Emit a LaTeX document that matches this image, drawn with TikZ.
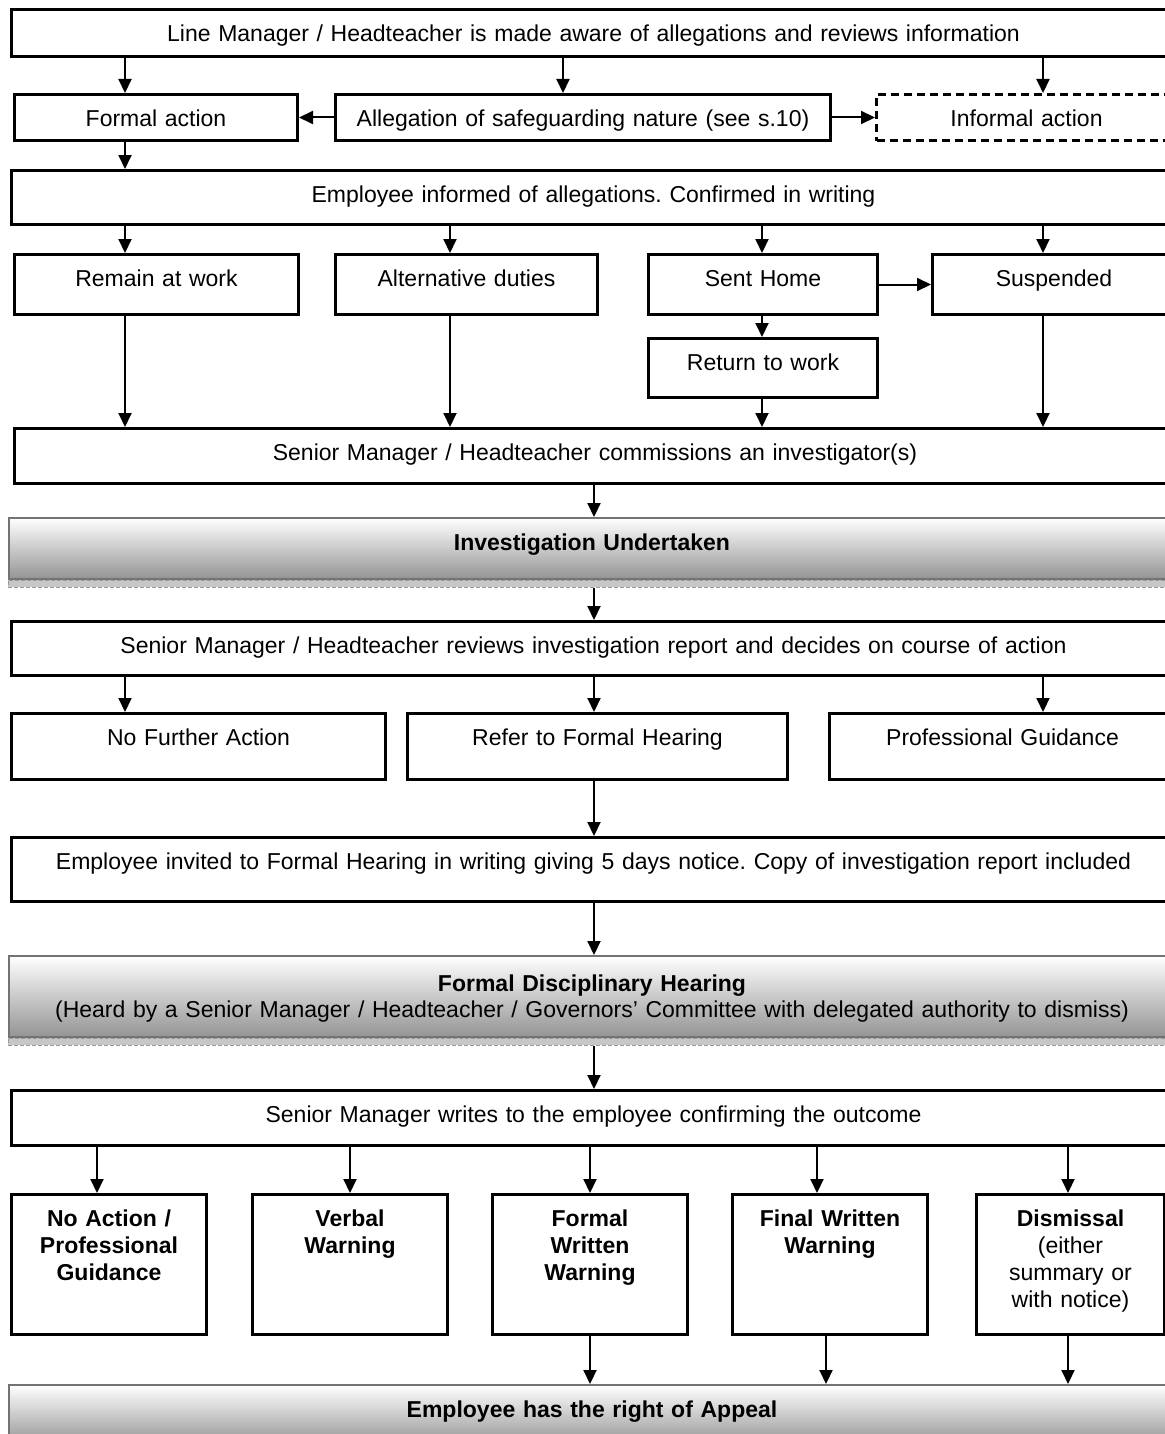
\documentclass[tikz,border=0pt]{standalone}
\usepackage{fontspec}
\setmainfont{Liberation Sans}
\frenchspacing
\usepackage{tikz}
\usetikzlibrary{arrows.meta}

\tikzset{
    stepbox/.style={draw, line width=1.5pt, anchor=north west, inner sep=0pt,
        align=center, text height=16pt, font=\fontsize{11.5}{13.5}\selectfont},
    stagebox/.style={stepbox, draw=black!55, line width=1pt,
        top color=white, bottom color=black!42},
    shadowstrip/.style={anchor=north west, inner sep=0pt, fill=black!22,
        draw=black!40, line width=0.4pt, dash pattern=on 2pt off 1pt,
        text height=0pt, text depth=0pt, minimum height=3.5pt},
}

\begin{document}
\begin{tikzpicture}[x=0.5pt, y=-0.5pt]
    \useasboundingbox (0,0) rectangle (1164,1434);

    % arrow columns
    \coordinate (lft) at (125,0);
    \coordinate (alc) at (563,0);
    \coordinate (rgt) at (1043,0);
    \coordinate (alt) at (450,0);
    \coordinate (snt) at (762,0);
    \coordinate (mid) at (594,0);
    \coordinate (oa) at (97,0);
    \coordinate (ob) at (350,0);
    \coordinate (oc) at (590,0);
    \coordinate (od) at (817,0);
    \coordinate (odd) at (826,0);
    \coordinate (oe) at (1068,0);

    \begin{scope}[every node/.style={stepbox}]
        \node[text width=582pt, text depth=7.5pt] (aware) at (10,8)
            {Line Manager / Headteacher is made aware of allegations and reviews information};
        \node[text width=141.5pt, text depth=7pt] (formal) at (13,93) {Formal action};
        \node[text width=247.5pt, text depth=7pt] (alleg) at (334,93)
            {Allegation of safeguarding nature (see s.10)};
        \node[text width=150pt, text depth=7pt, dash pattern=on 4pt off 2.5pt] (informal) at (875,93)
            {Informal action};
        \node[text width=582pt, text depth=11pt] (informed) at (10,169)
            {Employee informed of allegations. Confirmed in writing};
        \node[text width=142pt, text depth=14pt] (remain) at (13,253) {Remain at work};
        \node[text width=131pt, text depth=14pt] (altduty) at (334,253) {Alternative duties};
        \node[text width=114.5pt, text depth=14pt] (senthome) at (647,253) {Sent Home};
        \node[text width=121.5pt, text depth=14pt] (suspend) at (931,253) {Suspended};
        \node[text width=114.5pt, text depth=13.5pt] (backwork) at (647,337) {Return to work};
        \node[text width=580.5pt, text depth=11.5pt] (commission) at (13,427)
            {Senior Manager / Headteacher commissions an investigator(s)};

        \node[stagebox, text width=583pt, text depth=14.5pt] (investig) at (8,517)
            {\bfseries Investigation Undertaken};
        \node[shadowstrip, minimum width=583pt] (investigs) at (investig.south west) {};

        \node[text width=582pt, text depth=11pt] (review) at (10,620)
            {Senior Manager / Headteacher reviews investigation report and decides on course of action};
        \node[text width=187pt, text depth=17pt] (nfa) at (10,712) {No Further Action};
        \node[text width=190pt, text depth=17pt] (refer) at (406,712) {Refer to Formal Hearing};
        \node[text width=173pt, text depth=17pt] (profguide) at (828,712) {Professional Guidance};
        \node[text width=582pt, text depth=16pt] (invited) at (10,836)
            {Employee invited to Formal Hearing in writing giving 5 days notice. Copy of investigation report included};

        \node[stagebox, text width=583pt, text height=17.5pt, text depth=23pt,
            font=\fontsize{11.5}{13}\selectfont] (hearing) at (8,955)
            {\textbf{Formal Disciplinary Hearing}\\(Heard by a Senior Manager / Headteacher / Governors’ Committee with delegated authority to dismiss)};
        \node[shadowstrip, minimum width=583pt] (hearings) at (hearing.south west) {};

        \node[text width=582pt, text depth=11.5pt] (writes) at (10,1089)
            {Senior Manager writes to the employee confirming the outcome};

        \node[text width=97.5pt, text depth=54pt] (noaction) at (10,1193)
            {\bfseries No Action /\\Professional\\Guidance};
        \node[text width=97.5pt, text depth=54pt] (verbal) at (251,1193)
            {\bfseries Verbal\\Warning};
        \node[text width=97.5pt, text depth=54pt] (written) at (491,1193)
            {\bfseries Formal\\Written\\Warning};
        \node[text width=97.5pt, text depth=54pt] (final) at (731,1193)
            {\bfseries Final Written\\Warning};
        \node[text width=94pt, text depth=54pt] (dismiss) at (975,1193)
            {\textbf{Dismissal}\\(either\\summary or\\with notice)};

        \node[stagebox, text width=583pt, text depth=14pt] (appeal) at (8,1384)
            {\bfseries Employee has the right of Appeal};
    \end{scope}

    \begin{scope}[>={Triangle[length=7pt, width=6.5pt]},
        every edge/.style={draw=black, line width=1pt}]
        \path [->] (aware.south -| lft) edge (formal.north -| lft);
        \path [->] (aware.south -| alc) edge (alleg.north -| alc);
        \path [->] (aware.south -| rgt) edge (informal.north -| rgt);
        \path [->] (alleg.west) edge (formal.east);
        \path [->] (alleg.east) edge (informal.west);
        \path [->] (formal.south -| lft) edge (informed.north -| lft);

        \path [->] (informed.south -| lft) edge (remain.north -| lft);
        \path [->] (informed.south -| alt) edge (altduty.north -| alt);
        \path [->] (informed.south -| snt) edge (senthome.north -| snt);
        \path [->] (informed.south -| rgt) edge (suspend.north -| rgt);
        \path [->] (senthome.east) edge (suspend.west);
        \path [->] (senthome.south -| snt) edge (backwork.north -| snt);

        \path [->] (remain.south -| lft) edge (commission.north -| lft);
        \path [->] (altduty.south -| alt) edge (commission.north -| alt);
        \path [->] (backwork.south -| snt) edge (commission.north -| snt);
        \path [->] (suspend.south -| rgt) edge (commission.north -| rgt);

        \path [->] (commission.south -| mid) edge (investig.north -| mid);
        \path [->] (investigs.south -| mid) edge (review.north -| mid);
        \path [->] (review.south -| lft) edge (nfa.north -| lft);
        \path [->] (review.south -| mid) edge (refer.north -| mid);
        \path [->] (review.south -| rgt) edge (profguide.north -| rgt);
        \path [->] (refer.south -| mid) edge (invited.north -| mid);
        \path [->] (invited.south -| mid) edge (hearing.north -| mid);
        \path [->] (hearings.south -| mid) edge (writes.north -| mid);

        \path [->] (writes.south -| oa) edge (noaction.north -| oa);
        \path [->] (writes.south -| ob) edge (verbal.north -| ob);
        \path [->] (writes.south -| oc) edge (written.north -| oc);
        \path [->] (writes.south -| od) edge (final.north -| od);
        \path [->] (writes.south -| oe) edge (dismiss.north -| oe);

        \path [->] (written.south -| oc) edge (appeal.north -| oc);
        \path [->] (final.south -| odd) edge (appeal.north -| odd);
        \path [->] (dismiss.south -| oe) edge (appeal.north -| oe);
    \end{scope}
\end{tikzpicture}
\end{document}
